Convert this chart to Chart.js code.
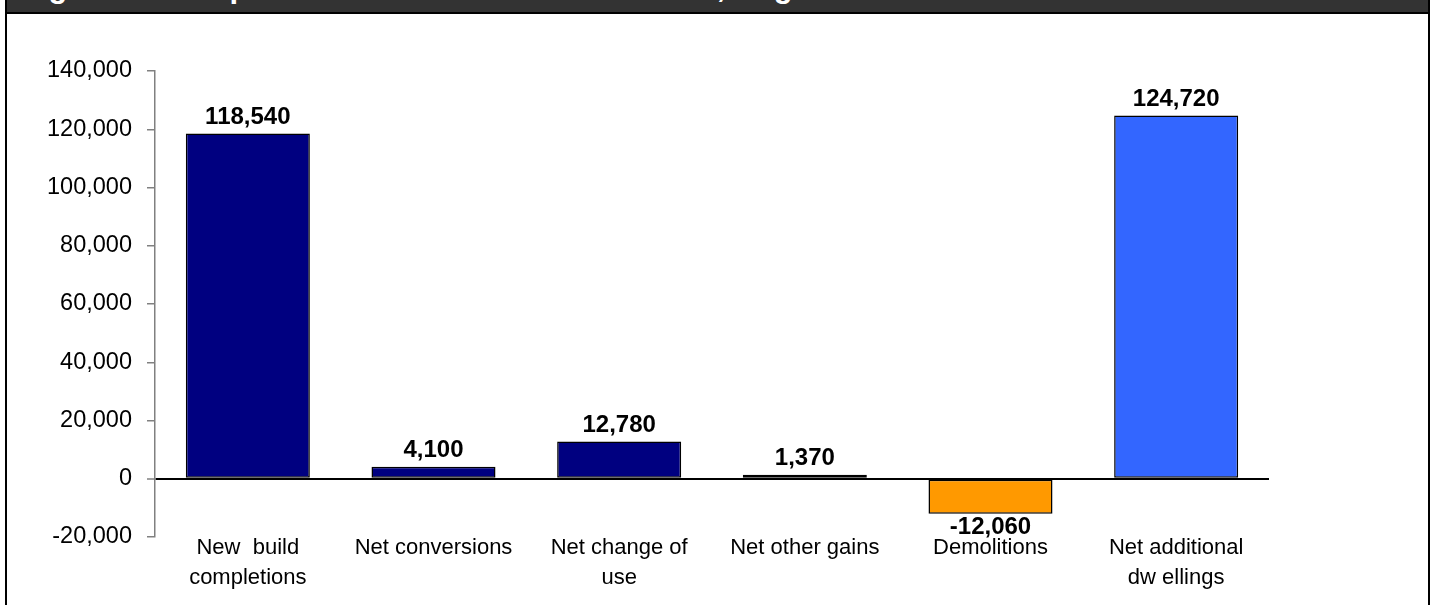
<!DOCTYPE html>
<html>
<head>
<meta charset="utf-8">
<script src="https://cdn.jsdelivr.net/npm/chart.js@4"></script>
<style>
  html, body { margin:0; padding:0; background:#fff; }
  #wrap { position:relative; width:1436px; height:605px; overflow:hidden; background:#fff; }
  #c { position:absolute; left:0; top:0; }
  .frameL { position:absolute; left:5px; top:0; width:2px; height:605px; background:#000; }
  .frameR { position:absolute; left:1428px; top:0; width:2px; height:605px; background:#000; }
  .header { position:absolute; left:7px; top:0; width:1421px; height:12px; background:#333333; overflow:hidden; }
  .header span { position:absolute; left:14px; top:-28.7px; white-space:nowrap; color:#fff;
    font: bold 31px/31px "Liberation Sans", Arial, sans-serif; }
  .headLine { position:absolute; left:5px; top:12px; width:1425px; height:2px; background:#000; }
</style>
</head>
<body>
<div id="wrap">
  <canvas id="c" width="1436" height="605"></canvas>
  <div class="header"><span>Figure 1: Components of net additions to stock, England 2010-11</span></div>
  <div class="headLine"></div>
  <div class="frameL"></div>
  <div class="frameR"></div>
</div>
<script>
const categories = [
  ['New  build', 'completions'],
  'Net conversions',
  ['Net change of', 'use'],
  'Net other gains',
  'Demolitions',
  ['Net additional', 'dw ellings']
];
const values = [118540, 4100, 12780, 1370, -12060, 124720];
const barColors = ['#000080', '#000080', '#000080', '#000080', '#FF9900', '#3366FF'];
const yMin = -20000;
const yMax = 140000;
const yStep = 20000;

const FONT = '"Liberation Sans", Arial, sans-serif';
const fmt = v => v.toLocaleString('en-US');

const valueLabels = {
  id: 'valueLabels',
  afterDatasetsDraw(chart) {
    const ctx = chart.ctx;
    const meta = chart.getDatasetMeta(0);
    ctx.save();
    ctx.font = 'bold 24px ' + FONT;
    ctx.fillStyle = '#000';
    ctx.textAlign = 'center';
    ctx.textBaseline = 'alphabetic';
    meta.data.forEach((el, i) => {
      const v = values[i];
      if (v >= 0) ctx.fillText(fmt(v), el.x, el.y - 10);
      else ctx.fillText(fmt(v), el.x, el.y + 20);
    });
    ctx.restore();
  }
};

new Chart(document.getElementById('c'), {
  type: 'bar',
  data: {
    labels: categories,
    datasets: [{
      data: values,
      backgroundColor: barColors,
      borderColor: '#000',
      borderWidth: 1.5,
      borderSkipped: false,
      barPercentage: 0.668,
      categoryPercentage: 1
    }]
  },
  options: {
    responsive: false,
    animation: false,
    layout: { padding: { top: 71, right: 167, bottom: 0, left: 0 } },
    plugins: { legend: { display: false }, tooltip: { enabled: false }, title: { display: false } },
    scales: {
      x: {
        grid: { display: false, drawTicks: false },
        border: { display: false },
        ticks: {
          color: '#000',
          font: { family: FONT, size: 22, lineHeight: 1.37 },
          padding: -4.5,
          maxRotation: 0,
          autoSkip: false
        },
        afterFit(scale) { scale.height = 68; }
      },
      y: {
        min: yMin,
        max: yMax,
        ticks: {
          stepSize: yStep,
          color: '#000',
          font: { family: FONT, size: 23.5 },
          padding: 15,
          callback: v => fmt(v)
        },
        grid: {
          color: c => (c.tick && c.tick.value === 0) ? '#000' : 'rgba(0,0,0,0)',
          lineWidth: c => (c.tick && c.tick.value === 0) ? 2 : 1.5,
          tickColor: '#808080',
          tickLength: 8,
          tickWidth: 1.5
        },
        border: { display: true, color: '#808080', width: 1.5 },
        afterFit(scale) { scale.width = 155; }
      }
    }
  },
  plugins: [valueLabels]
});
</script>
</body>
</html>
